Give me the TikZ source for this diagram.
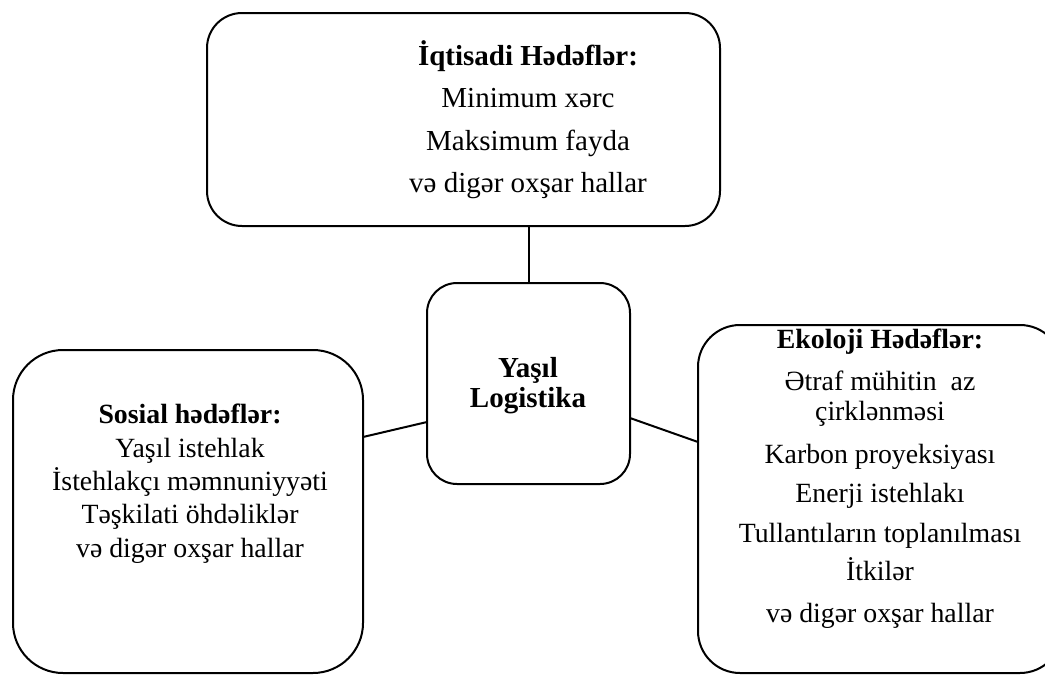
\documentclass[tikz,border=0pt]{standalone}
\usepackage{fontspec}
\setmainfont{Liberation Serif}
\begin{document}
\begin{tikzpicture}[x=1pt,y=-1pt,
  box/.style={draw,line width=2pt,rounded corners=#1,inner sep=0pt,outer sep=0pt},
  link/.style={line width=2pt},
  bigtxt/.style={anchor=base,inner sep=0pt,font=\fontsize{29}{35}\selectfont},
  txt/.style={anchor=base,inner sep=0pt,font=\fontsize{27.8}{33}\selectfont}]
\useasboundingbox (0,0) rectangle (1045,675);
\clip (0,0) rectangle (1045,675);
% boxes
\node[box=35pt,minimum width=513pt,minimum height=213pt] (top) at (463.5,119.5) {};
\node[box=30pt,minimum width=203pt,minimum height=201pt] (ctr) at (528.5,383.5) {};
\node[box=50pt,minimum width=350pt,minimum height=323pt] (lft) at (188,511.5) {};
\node[box=42pt,minimum width=364pt,minimum height=348pt] (rgt) at (880,499) {};
% connectors
\draw[link] (top.south -| ctr.north) -- (ctr.north);
\draw[link] ([yshift=74.5pt]lft.east) -- ([yshift=-38.5pt]ctr.west);
\draw[link] ([yshift=-34.5pt]ctr.east) -- ([yshift=57pt]rgt.west);
% top text
\node[bigtxt] (top-1) at (528,65) {\bfseries İqtisadi Hədəflər:};
\node[bigtxt] (top-2) at (528,107) {Minimum xərc};
\node[bigtxt] (top-3) at (528,150) {Maksimum fayda};
\node[bigtxt] (top-4) at (528,192) {və digər oxşar hallar};
% centre text
\node[bigtxt] (ctr-1) at (528,377) {\bfseries Yaşıl};
\node[bigtxt] (ctr-2) at (528,407) {\bfseries Logistika};
% left text
\node[txt] (lft-1) at (190,423) {\bfseries Sosial hədəflər:};
\node[txt] (lft-2) at (190,457) {Yaşıl istehlak};
\node[txt] (lft-3) at (190,490) {İstehlakçı məmnuniyyəti};
\node[txt] (lft-4) at (190,523) {Təşkilati öhdəliklər};
\node[txt] (lft-5) at (190,557) {və digər oxşar hallar};
% right text
\node[txt] (rgt-1) at (880,348) {\bfseries Ekoloji Hədəflər:};
\node[txt] (rgt-2) at (880,390) {Ətraf mühitin~ az};
\node[txt] (rgt-3) at (880,420) {çirklənməsi};
\node[txt] (rgt-4) at (880,463) {Karbon proyeksiyası};
\node[txt] (rgt-5) at (880,502) {Enerji istehlakı};
\node[txt] (rgt-6) at (880,542) {Tullantıların toplanılması};
\node[txt] (rgt-7) at (880,580) {İtkilər};
\node[txt] (rgt-8) at (880,622) {və digər oxşar hallar};
\end{tikzpicture}
\end{document}
